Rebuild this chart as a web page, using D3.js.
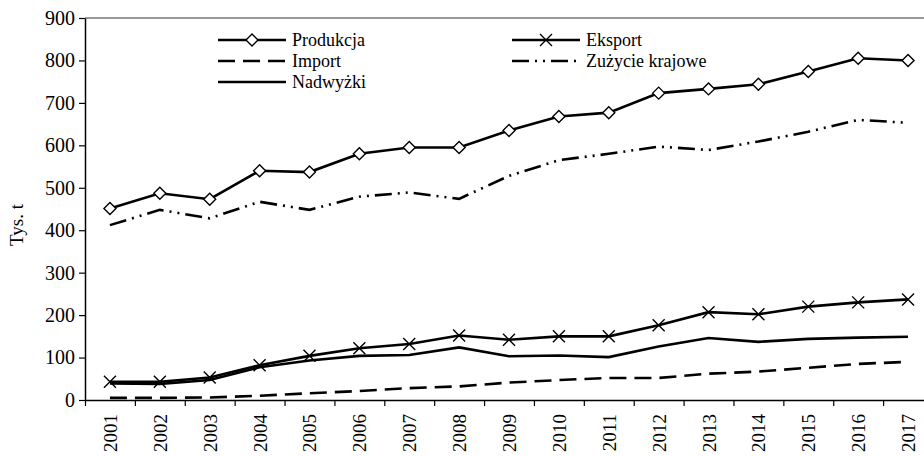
<!DOCTYPE html>
<html>
<head>
<meta charset="utf-8">
<script src="https://cdn.jsdelivr.net/npm/d3@7"></script>
<style>
  body { margin: 0; background: #fff; }
  .domain { stroke: #000; stroke-width: 1.5; }
  .tick line { stroke: #000; stroke-width: 1.2; }
</style>
</head>
<body>
<div id="chart"></div>
<script>
// 1: DATA (tys. t)
const years = ["2001","2002","2003","2004","2005","2006","2007","2008","2009",
               "2010","2011","2012","2013","2014","2015","2016","2017"];
const produkcja = [451, 487, 473, 540, 537, 580, 595, 595, 635, 668, 677, 723, 733, 744, 774, 805, 800];
const eksport   = [43, 43, 53, 82, 104, 122, 132, 152, 142, 150, 150, 176, 207, 202, 220, 230, 237];
const importData = [5, 5, 6, 10, 16, 21, 28, 32, 41, 47, 52, 52, 62, 67, 76, 85, 90];
const zuzycie   = [412, 448, 428, 467, 448, 479, 489, 474, 528, 565, 580, 597, 589, 609, 632, 660, 653];
const nadwyzki  = [39, 38, 47, 77, 93, 104, 106, 124, 103, 105, 101, 126, 146, 137, 144, 147, 149];
const yTicks = [0, 100, 200, 300, 400, 500, 600, 700, 800, 900];

const series = [
  { name: "Produkcja", values: produkcja, dash: null, marker: "diamond" },
  { name: "Eksport", values: eksport, dash: null, marker: "cross" },
  { name: "Import", values: importData, dash: "17,8", marker: null },
  { name: "Zużycie krajowe", values: zuzycie, dash: "17,6,2,6,2,6", marker: null },
  { name: "Nadwyżki", values: nadwyzki, dash: null, marker: null }
];

const FONT = "Times New Roman, Times, Liberation Serif, DejaVu Serif, Noto Serif, serif";

// 2: LAYOUT
const W = 924, H = 456;
const plot = { left: 85, right: 933, top: 18, bottom: 400 };

const svg = d3.select("#chart").append("svg")
  .attr("width", W).attr("height", H)
  .attr("font-family", FONT);

// 3: SCALES
const x = d3.scaleBand().domain(years).range([plot.left, plot.right]);
const xEdge = d3.scaleLinear().domain([0, years.length]).range([plot.left, plot.right]);
const y = d3.scaleLinear().domain([0, 900]).range([plot.bottom, plot.top]);
const cx = d => x(d) + x.bandwidth() / 2;

// top border of plot area (grey)
svg.append("line")
  .attr("x1", plot.left).attr("x2", W)
  .attr("y1", y(900)).attr("y2", y(900))
  .attr("stroke", "#999").attr("stroke-width", 2);

// 4: AXES
const yAxis = svg.append("g")
  .attr("transform", `translate(${plot.left},0)`)
  .call(d3.axisLeft(y).tickValues(yTicks).tickSize(6).tickPadding(4).tickSizeOuter(0));
yAxis.attr("font-family", FONT).attr("font-size", 20);
yAxis.selectAll("text").attr("fill", "#000");

svg.append("g")
  .attr("transform", `translate(0,${plot.bottom})`)
  .call(d3.axisBottom(xEdge).tickValues(d3.range(0, years.length + 1))
    .tickFormat("").tickSize(6).tickSizeOuter(0));

svg.append("g").selectAll("text.year")
  .data(years)
  .join("text")
  .attr("class", "year")
  .attr("transform", d => `translate(${cx(d) + 7},414) rotate(-90)`)
  .attr("text-anchor", "end")
  .attr("font-family", FONT)
  .attr("font-size", 19)
  .text(d => d);

svg.append("text")
  .attr("transform", "translate(23,225) rotate(-90)")
  .attr("text-anchor", "middle")
  .attr("font-family", FONT)
  .attr("font-size", 19)
  .text("Tys. t");

// 5: LINES
const line = d3.line()
  .x((v, i) => cx(years[i]))
  .y(v => y(v));

series.forEach(s => {
  svg.append("path")
    .datum(s.values)
    .attr("d", line)
    .attr("fill", "none")
    .attr("stroke", "#000")
    .attr("stroke-width", 2.6)
    .attr("stroke-dasharray", s.dash);
});

function drawMarker(g, type, px, py) {
  if (type === "diamond") {
    g.append("path")
      .attr("d", `M${px},${py - 6}L${px + 6},${py}L${px},${py + 6}L${px - 6},${py}Z`)
      .attr("fill", "#fff").attr("stroke", "#000").attr("stroke-width", 1.4);
  } else if (type === "cross") {
    g.append("path")
      .attr("d", `M${px - 6},${py - 6}L${px + 6},${py + 6}M${px - 6},${py + 6}L${px + 6},${py - 6}`)
      .attr("stroke", "#000").attr("stroke-width", 1.4);
  }
}

series.filter(s => s.marker).forEach(s => {
  const g = svg.append("g");
  s.values.forEach((v, i) => drawMarker(g, s.marker, cx(years[i]), y(v)));
});

// 6: LEGEND
const legendPos = [
  { x: 218, y: 40 }, { x: 512, y: 40 },
  { x: 218, y: 61 }, { x: 512, y: 61 },
  { x: 218, y: 82 }
];
series.forEach((s, i) => {
  const p = legendPos[i];
  const g = svg.append("g").attr("transform", `translate(${p.x},${p.y})`);
  g.append("line")
    .attr("x1", 0).attr("x2", 68).attr("y1", 0).attr("y2", 0)
    .attr("stroke", "#000").attr("stroke-width", 2.6)
    .attr("stroke-dasharray", s.dash);
  if (s.marker) drawMarker(g, s.marker, 34, 0);
  g.append("text")
    .attr("x", 74).attr("y", 6)
    .attr("font-family", FONT)
    .attr("font-size", 18)
    .text(s.name);
});
</script>
</body>
</html>
